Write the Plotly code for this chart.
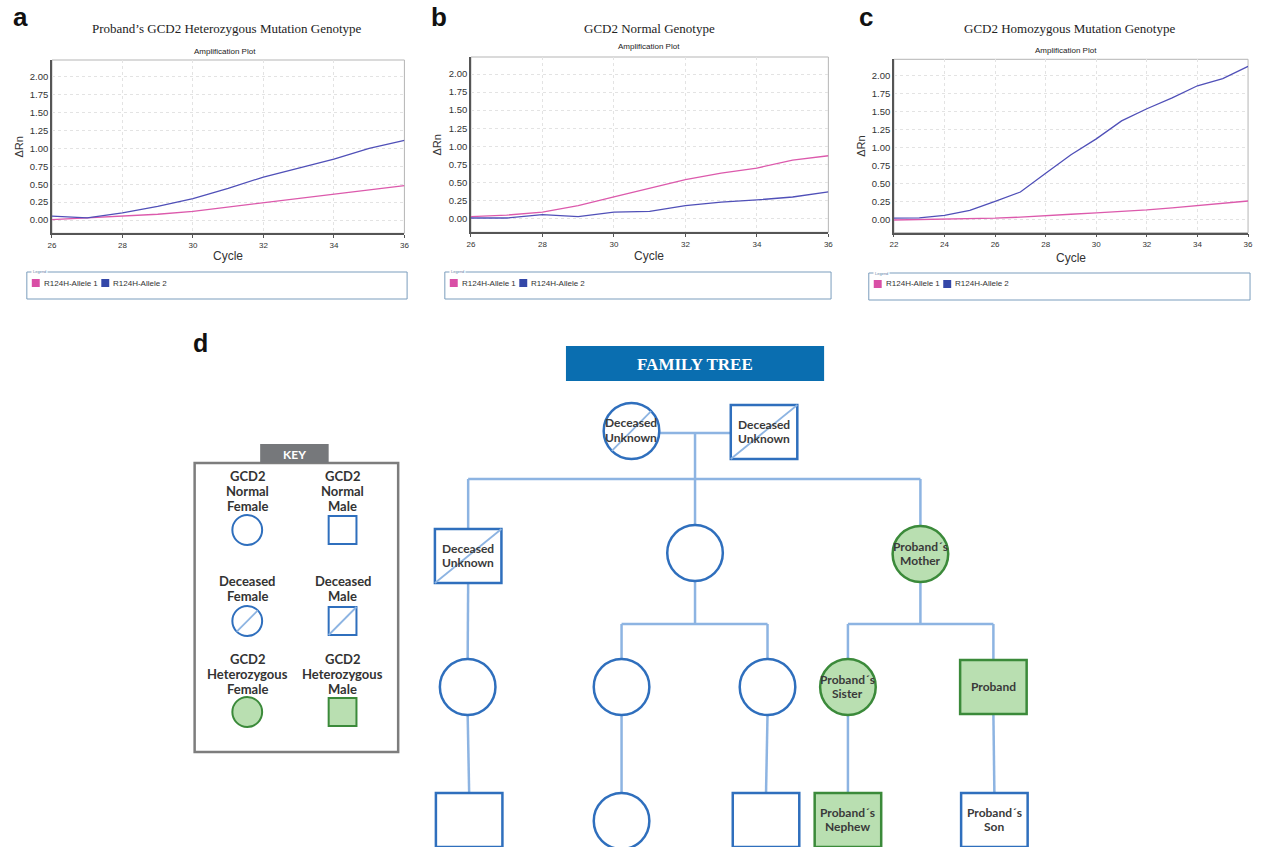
import plotly.graph_objects as go

W, H = 1261, 847

# ---------------- data: qPCR amplification curves ----------------
cycles_a = [26, 27, 28, 29, 30, 31, 32, 33, 34, 35, 36]
allele1_a = [0.005, 0.03, 0.05, 0.08, 0.12, 0.18, 0.24, 0.30, 0.37, 0.42, 0.48]
allele2_a = [0.055, 0.03, 0.10, 0.19, 0.30, 0.44, 0.60, 0.72, 0.85, 1.00, 1.11]

cycles_b = [26, 27, 28, 29, 30, 31, 32, 33, 34, 35, 36]
allele1_b = [0.03, 0.05, 0.09, 0.18, 0.30, 0.42, 0.54, 0.63, 0.70, 0.81, 0.87]
allele2_b = [0.01, 0.01, 0.055, 0.03, 0.09, 0.10, 0.18, 0.23, 0.26, 0.30, 0.37]

cycles_c = [22, 23, 24, 25, 26, 27, 28, 29, 30, 31, 32, 33, 34, 35, 36]
allele1_c = [-0.01, -0.005, 0.0, 0.005, 0.015, 0.03, 0.045, 0.07, 0.09, 0.105, 0.13, 0.16, 0.19, 0.22, 0.255]
allele2_c = [0.015, 0.02, 0.055, 0.125, 0.25, 0.38, 0.64, 0.90, 1.12, 1.37, 1.54, 1.69, 1.86, 1.96, 2.13]

panel_letters = ["a", "b", "c"]
panel_titles = ["Proband’s GCD2 Heterozygous Mutation Genotype",
                "GCD2 Normal Genotype",
                "GCD2 Homozygous Mutation Genotype"]
plot_subtitle = "Amplification Plot"
series_names = ["R124H-Allele 1", "R124H-Allele 2"]
x_tick_step = 2
y_tick_step = 0.25
x_label = "Cycle"
y_label = "ΔRn"

# ---------------- data: family tree ----------------
node_ids = ["gm", "gf", "c1", "c2", "c3", "g3a", "g3b", "g3c", "sis", "pro",
            "g4a", "g4b", "g4c", "neph", "son"]
node_labels = ["Deceased<br>Unknown", "Deceased<br>Unknown", "Deceased<br>Unknown", "", "Proband´s<br>Mother",
               "", "", "", "Proband´s<br>Sister", "Proband",
               "", "", "", "Proband´s<br>Nephew", "Proband´s<br>Son"]
node_sex = ["F", "M", "M", "F", "F", "F", "F", "F", "F", "M", "M", "F", "M", "M", "M"]
node_status = ["deceased", "deceased", "deceased", "normal", "het",
               "normal", "normal", "normal", "het", "het",
               "normal", "normal", "normal", "het", "normal"]
couples = [("gm", "gf")]
families = [(("gm", "gf"), ["c1", "c2", "c3"]),
            (("c1",), ["g3a"]),
            (("c2",), ["g3b", "g3c"]),
            (("c3",), ["sis", "pro"]),
            (("g3a",), ["g4a"]),
            (("g3b",), ["g4b"]),
            (("g3c",), ["g4c"]),
            (("sis",), ["neph"]),
            (("pro",), ["son"])]

key_title = "KEY"
key_labels = ["GCD2<br>Normal<br>Female", "GCD2<br>Normal<br>Male",
              "Deceased<br>Female", "Deceased<br>Male",
              "GCD2<br>Heterozygous<br>Female", "GCD2<br>Heterozygous<br>Male"]
key_sex = ["F", "M", "F", "M", "F", "M"]
key_status = ["normal", "normal", "deceased", "deceased", "het", "het"]
tree_title = "FAMILY TREE"
tree_letter = "d"

# ---------------- layout (pixels) ----------------
def X(p):
    return p / W


def Y(p):
    return 1 - p / H


# plot boxes: left, right, top, bottom ; pixel rows of y=0 and y=2
panel_box = [(48.3, 403.3, 60.0, 233.3), (470.3, 830.3, 57.0, 232.3), (896.3, 1253.0, 59.3, 232.7)]
zero_px = [220.0, 218.7, 219.3]
two_px = [76.7, 74.0, 75.7]
title_pos = [(225, 28), (650, 29), (1073, 29)]
sub_pos = [(223, 52), (650, 47), (1070, 51)]
letter_pos = [(17, 17), (438, 17), (868, 17)]
ylab_x = [15, 436, 863]
cycle_pos = [(226, 256), (650, 256), (1075, 258)]
legend_box = [(23, 406, 272, 299), (444, 833, 272, 299), (871, 1255, 273, 300)]

line_colors = ["#dc5aac", "#5050b8"]
legend_colors = ["#d94fa6", "#3447a8"]

SANS = "Liberation Sans"
SERIF = "Liberation Serif"
TREEFONT = "Lato"

fig = go.Figure()
shapes = []
annots = []

series_x = [cycles_a, cycles_b, cycles_c]
series_y = [[allele1_a, allele2_a], [allele1_b, allele2_b], [allele1_c, allele2_c]]

for i in range(3):
    l, r, t, b = panel_box[i]
    ax = "" if i == 0 else str(i + 1)
    for k in range(2):
        fig.add_trace(go.Scatter(x=series_x[i], y=series_y[i][k], mode="lines",
                                 name=series_names[k], showlegend=False,
                                 line=dict(color=line_colors[k], width=1.3),
                                 xaxis="x" + ax, yaxis="y" + ax, hoverinfo="skip"))
    unit = (zero_px[i] - two_px[i]) / 2.0
    ymin = -(b - zero_px[i]) / unit
    ymax = (zero_px[i] - t) / unit
    fig.layout["xaxis" + ax] = dict(
        domain=[X(l), X(r)], anchor="y" + ax, range=[series_x[i][0], series_x[i][-1]],
        dtick=x_tick_step, tick0=series_x[i][0], showgrid=True, gridcolor="#e3e3e3", griddash="dot",
        gridwidth=1, showline=True, linecolor="#555555", linewidth=1.5, zeroline=False,
        ticks="outside", ticklen=3, tickcolor="#555555",
        tickfont=dict(family=SANS, size=8, color="#333333"), fixedrange=True)
    fig.layout["yaxis" + ax] = dict(
        domain=[Y(b), Y(t)], anchor="x" + ax, range=[ymin, ymax],
        dtick=y_tick_step, tick0=0, tickformat=".2f", showgrid=True, gridcolor="#e3e3e3",
        griddash="dot", gridwidth=1, showline=True, linecolor="#555555", linewidth=1.5,
        zeroline=False, ticks="", tickfont=dict(family=SANS, size=9.5, color="#333333"),
        fixedrange=True)
    # light frame top/right
    shapes.append(dict(type="rect", xref="paper", yref="paper", x0=X(l), x1=X(r), y0=Y(b), y1=Y(t),
                       line=dict(color="#b5b5b5", width=1), layer="below"))
    # texts
    annots.append(dict(text=panel_titles[i], x=X(title_pos[i][0]), y=Y(title_pos[i][1]),
                       xref="paper", yref="paper", showarrow=False, xanchor="center", yanchor="middle",
                       font=dict(family=SERIF, size=13, color="#222222")))
    annots.append(dict(text=plot_subtitle, x=X(sub_pos[i][0]), y=Y(sub_pos[i][1]),
                       xref="paper", yref="paper", showarrow=False, xanchor="center", yanchor="middle",
                       font=dict(family=SANS, size=8, color="#222222")))
    annots.append(dict(text="<b>%s</b>" % panel_letters[i], x=X(letter_pos[i][0]), y=Y(letter_pos[i][1]),
                       xref="paper", yref="paper", showarrow=False, xanchor="center", yanchor="middle",
                       font=dict(family=SANS, size=26, color="#111111")))
    annots.append(dict(text=y_label, x=X(ylab_x[i]), y=Y((t + b) / 2), textangle=-90,
                       xref="paper", yref="paper", showarrow=False, xanchor="center", yanchor="middle",
                       font=dict(family=SANS, size=11, color="#333333")))
    annots.append(dict(text=x_label, x=X(cycle_pos[i][0]), y=Y(cycle_pos[i][1]),
                       xref="paper", yref="paper", showarrow=False, xanchor="center", yanchor="middle",
                       font=dict(family=SANS, size=12, color="#333333")))
    # legend box
    bl, br, bt, bb = legend_box[i]
    shapes.append(dict(type="rect", xref="paper", yref="paper", x0=X(bl), x1=X(br), y0=Y(bb), y1=Y(bt),
                       line=dict(color="#7b9dbd", width=1)))
    annots.append(dict(text="Legend", x=X(bl + 4), y=Y(bt), xref="paper", yref="paper", showarrow=False,
                       xanchor="left", yanchor="middle", bgcolor="white",
                       font=dict(family=SANS, size=4, color="#5b7fa6")))
    for k in range(2):
        sx = bl + 5 + 70 * k
        shapes.append(dict(type="rect", xref="paper", yref="paper", x0=X(sx), x1=X(sx + 8),
                           y0=Y(bt + 15), y1=Y(bt + 7), line=dict(width=0), fillcolor=legend_colors[k]))
        annots.append(dict(text=series_names[k], x=X(sx + 10), y=Y(bt + 11), xref="paper", yref="paper",
                           showarrow=False, xanchor="left", yanchor="middle",
                           font=dict(family=SANS, size=8, color="#333333")))

# ---------------- family tree ----------------
BLUE = "#2f6fbd"
CONN = "#8db4e2"
GREEN_FILL = "#b9dfb1"
GREEN_LINE = "#3b8a3a"
TEXT = "#3a3a3a"

node_pos = {"gm": (632, 431), "gf": (765.5, 432),
            "c1": (467.5, 556), "c2": (696, 553), "c3": (923, 554),
            "g3a": (467, 687), "g3b": (622, 687), "g3c": (769, 687), "sis": (850, 687), "pro": (996.5, 687),
            "g4a": (468.5, 820), "g4b": (622, 821), "g4c": (767.5, 820), "neph": (850, 820), "son": (997.5, 820)}
R = 28
HW, HH = 33.5, 27
marriage_y = 433
sib_bar_y = {"gm": 479, "c2": 624, "c3": 624}


def pline(x0, y0, x1, y1, color=CONN, width=2.5):
    shapes.append(dict(type="line", xref="paper", yref="paper", x0=X(x0), y0=Y(y0), x1=X(x1), y1=Y(y1),
                       line=dict(color=color, width=width)))


def half_h(sex):
    return R if sex == "F" else HH


def half_w(sex):
    return R if sex == "F" else HW


sex_of = dict(zip(node_ids, node_sex))
status_of = dict(zip(node_ids, node_status))
label_of = dict(zip(node_ids, node_labels))

# couple lines
for a, b in couples:
    ax_, ay_ = node_pos[a]
    bx_, by_ = node_pos[b]
    pline(ax_ + half_w(sex_of[a]), marriage_y, bx_ - half_w(sex_of[b]), marriage_y)

# descent lines
for parents, kids in families:
    if len(parents) == 2:
        p1x = node_pos[parents[0]][0] + half_w(sex_of[parents[0]])
        p2x = node_pos[parents[1]][0] - half_w(sex_of[parents[1]])
        dx = (p1x + p2x) / 2
        dy0 = marriage_y
    else:
        px_, py_ = node_pos[parents[0]]
        dx = px_
        dy0 = py_ + half_h(sex_of[parents[0]])
    if len(kids) == 1:
        kx, ky = node_pos[kids[0]]
        pline(dx, dy0, kx, ky - half_h(sex_of[kids[0]]))
    else:
        bar = sib_bar_y[parents[0]]
        pline(dx, dy0, dx, bar)
        xs = [node_pos[k][0] for k in kids]
        pline(min(xs), bar, max(xs), bar)
        for k in kids:
            kx, ky = node_pos[k]
            pline(kx, bar, kx, ky - half_h(sex_of[k]))


def symbol(cx, cy, sex, status, r, hw, hh, lw):
    fill = GREEN_FILL if status == "het" else "white"
    lc = GREEN_LINE if status == "het" else BLUE
    if sex == "F":
        shapes.append(dict(type="circle", xref="paper", yref="paper", x0=X(cx - r), x1=X(cx + r),
                           y0=Y(cy + r), y1=Y(cy - r), fillcolor=fill, line=dict(color=lc, width=lw)))
        if status == "deceased":
            d = r * 0.7071
            pline(cx - d, cy + d, cx + d, cy - d, color=CONN, width=1.8)
    else:
        shapes.append(dict(type="rect", xref="paper", yref="paper", x0=X(cx - hw), x1=X(cx + hw),
                           y0=Y(cy + hh), y1=Y(cy - hh), fillcolor=fill, line=dict(color=lc, width=lw)))
        if status == "deceased":
            pline(cx - hw, cy + hh, cx + hw, cy - hh, color=CONN, width=1.8)


def text_lines(text, cx, cy, size, spacing, color=TEXT, family=TREEFONT):
    lines = text.split("<br>")
    n = len(lines)
    for j, t in enumerate(lines):
        yy = cy + (j - (n - 1) / 2.0) * spacing
        annots.append(dict(text="<b>%s</b>" % t, x=X(cx), y=Y(yy), xref="paper", yref="paper",
                           showarrow=False, xanchor="center", yanchor="middle",
                           font=dict(family=family, size=size, color=color)))


for nid in node_ids:
    cx, cy = node_pos[nid]
    symbol(cx, cy, sex_of[nid], status_of[nid], R, HW, HH, 2.5)
    if label_of[nid]:
        text_lines(label_of[nid], cx, cy - 1, 12, 14)

# banner
shapes.append(dict(type="rect", xref="paper", yref="paper", x0=X(566), x1=X(826), y0=Y(381), y1=Y(346),
                   fillcolor="#0a6eb0", line=dict(width=0)))
annots.append(dict(text="<b>%s</b>" % tree_title, x=X(696), y=Y(364), xref="paper", yref="paper",
                   showarrow=False, xanchor="center", yanchor="middle",
                   font=dict(family=SERIF, size=17, color="white")))
annots.append(dict(text="<b>%s</b>" % tree_letter, x=X(198), y=Y(343), xref="paper", yref="paper",
                   showarrow=False, xanchor="center", yanchor="middle",
                   font=dict(family=SANS, size=25, color="#111111")))

# key
shapes.append(dict(type="rect", xref="paper", yref="paper", x0=X(192), x1=X(397), y0=Y(752), y1=Y(463),
                   line=dict(color="#7d7d7d", width=2.5), fillcolor="white"))
shapes.append(dict(type="rect", xref="paper", yref="paper", x0=X(258), x1=X(327), y0=Y(463), y1=Y(444),
                   line=dict(width=0), fillcolor="#76787b"))
annots.append(dict(text="<b>%s</b>" % key_title, x=X(292.5), y=Y(454), xref="paper", yref="paper",
                   showarrow=False, xanchor="center", yanchor="middle",
                   font=dict(family=TREEFONT, size=12, color="white")))
key_col_x = [245, 341]
key_text_y = [491, 588, 674]
key_sym_y = [530, 621, 712]
for idx in range(6):
    col = idx % 2
    row = idx // 2
    text_lines(key_labels[idx], key_col_x[col], key_text_y[row], 13, 15, color="#333333")
    symbol(key_col_x[col], key_sym_y[row], key_sex[idx], key_status[idx], 15, 14, 14, 2)

fig.update_layout(width=W, height=H, margin=dict(l=0, r=0, t=0, b=0),
                  paper_bgcolor="white", plot_bgcolor="white", showlegend=False,
                  shapes=shapes, annotations=annots)

fig.write_html("out.html", config={"displayModeBar": False},
               post_script="document.body.style.margin='0';document.body.style.overflow='hidden';")
